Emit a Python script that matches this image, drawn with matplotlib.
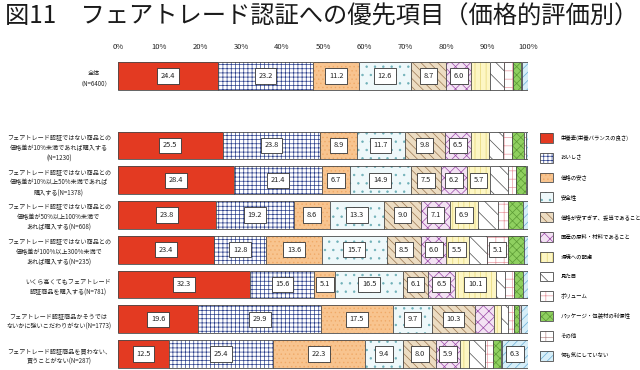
import matplotlib
matplotlib.use("Agg")
import matplotlib.pyplot as plt
import numpy as np
from matplotlib.patches import Patch
from matplotlib.legend_handler import HandlerTuple

plt.rcParams['font.family'] = ['Noto Sans CJK JP', 'DejaVu Sans']
plt.rcParams['hatch.linewidth'] = 0.5

title = "図11　フェアトレード認証への優先項目（価格的評価別）"

row_labels = [
    "全体\n（N=6400）",
    "フェアトレード認証ではない商品との\n価格差が10%未満であれば購入する\n(N=1230)",
    "フェアトレード認証ではない商品との\n価格差が10%以上50%未満であれば\n購入する(N=1378)",
    "フェアトレード認証ではない商品との\n価格差が50%以上100%未満で\nあれば購入する(N=608)",
    "フェアトレード認証ではない商品との\n価格差が100%以上300%未満で\nあれば購入する(N=235)",
    "いくら高くてもフェアトレード\n認証商品を購入する(N=781)",
    "フェアトレード認証商品かそうでは\nないかに強いこだわりがない(N=1773)",
    "フェアトレード認証商品を買わない、\n買うことがない(N=287)",
]

categories = [
    "栄養素(栄養バランスの良さ)", "おいしさ", "価格の安さ", "安全性",
    "価格が安すぎず、妥当であること", "国産の原料・材料であること", "環境への配慮",
    "見た目", "ボリューム", "パッケージ・包装材の利便性", "その他", "何も気にしていない",
]

eiyou    = [24.4, 25.5, 28.4, 23.8, 23.4, 32.3, 19.6, 12.5]
oishisa  = [23.2, 23.8, 21.4, 19.2, 12.8, 15.6, 29.9, 25.4]
yasusa   = [11.2, 8.9, 6.7, 8.6, 13.6, 5.1, 17.5, 22.3]
anzen    = [12.6, 11.7, 14.9, 13.3, 15.7, 16.5, 9.7, 9.4]
datou    = [8.7, 9.8, 7.5, 9.0, 8.5, 6.1, 10.3, 8.0]
kokusan  = [6.0, 6.5, 6.2, 7.1, 6.0, 6.5, 4.8, 5.9]
kankyo   = [4.6, 4.3, 5.7, 6.9, 5.5, 10.1, 1.5, 2.1]
mitame   = [3.4, 3.4, 4.2, 4.9, 4.5, 2.3, 1.9, 3.9]
volume   = [2.3, 2.3, 2.0, 2.2, 5.1, 2.0, 1.4, 2.0]
package  = [1.9, 2.9, 2.4, 3.8, 3.9, 2.3, 1.2, 1.8]
sonota   = [0.3, 0.4, 0.3, 0.1, 0.0, 0.1, 0.6, 0.4]
nanimo   = [1.4, 0.5, 0.3, 1.1, 1.0, 1.1, 1.6, 6.3]

series = [eiyou, oishisa, yasusa, anzen, datou, kokusan, kankyo, mitame,
          volume, package, sonota, nanimo]

xticks = [0, 10, 20, 30, 40, 50, 60, 70, 80, 90, 100]
xticklabels = ["0%", "10%", "20%", "30%", "40%", "50%", "60%", "70%", "80%", "90%", "100%"]

# (facecolor, hatch color, hatch)
styles = [
    ("#e33a22", "#e33a22", None),
    ("#ffffff", "#2b3f8c", "++++"),
    ("#f8c48f", "#f0aa68", "...."),
    ("#eef8fa", "#6fb0b8", ".."),
    ("#ecdcc2", "#9a7650", "\\\\\\\\"),
    ("#f3e2f3", "#9b4aa8", "xxx"),
    ("#fdf6c4", "#e6d676", "|||"),
    ("#ffffff", "#505050", "\\\\"),
    ("#ffffff", "#e89aa2", "++"),
    ("#8fd060", "#5b9a34", "xxxx"),
    ("#ffffff", "#b89090", "++"),
    ("#d6eef8", "#6aaed6", "////"),
]

ypos = np.array([0, 2, 3, 4, 5, 6, 7, 8])
height = 0.8
edge = "#4a4a4a"

fig = plt.figure(figsize=(6.4, 3.7), dpi=100)
fig.text(5 / 640, 1 - 17 / 370, title, fontsize=17.5, va="center", ha="left", color="#1a1a1a")

ax = fig.add_axes([118 / 640, 0.001, 410 / 640, 0.836])
left = np.zeros(len(ypos))
handles = []
for vals, (fc, hc, h), name in zip(series, styles, categories):
    vals = np.array(vals)
    ax.barh(ypos, vals, left=left, height=height, color=fc, edgecolor=hc,
            hatch=h, linewidth=0)
    ax.barh(ypos, vals, left=left, height=height, fill=False, edgecolor=edge,
            linewidth=0.6)
    for y, v, l in zip(ypos, vals, left):
        if v >= 5.0:
            ax.text(l + v / 2, y, f"{v:.1f}", ha="center", va="center", fontsize=5.3,
                    color="#222222",
                    bbox=dict(boxstyle="square,pad=0.5", fc="white", ec="#333333", lw=0.6))
    left += vals
    handles.append((Patch(facecolor=fc, edgecolor=hc, hatch=h, linewidth=0),
                    Patch(fill=False, edgecolor=edge, linewidth=0.6)))

ax.set_xlim(0, 100)
ax.set_ylim(8.45, -0.45)
ax.xaxis.tick_top()
ax.set_xticks(xticks)
ax.set_xticklabels(xticklabels, fontsize=5.5, color="#222222")
ax.set_yticks(ypos)
ax.set_yticklabels(row_labels, fontsize=4.4, color="#222222", linespacing=1.45,
                   multialignment="center")
ax.tick_params(axis="both", length=0)
ax.tick_params(axis="x", pad=7)
ax.tick_params(axis="y", pad=5)
for s in ax.spines.values():
    s.set_visible(False)

fig.legend(handles, categories, loc="upper left",
           bbox_to_anchor=(540 / 640, 1 - 133 / 370), frameon=False,
           fontsize=3.9, handlelength=2.4, handleheight=2.4, labelspacing=1.85,
           handletextpad=1.4, borderaxespad=0, borderpad=0,
           handler_map={tuple: HandlerTuple(ndivide=1, pad=0)})

fig.savefig("out.png", dpi=100)
